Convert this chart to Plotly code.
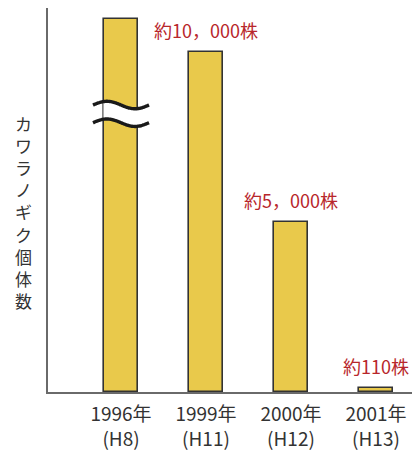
import numpy as np
import plotly.graph_objects as go

# ---- data ----
years = ["1996年", "1999年", "2000年", "2001年"]
eras = ["(H8)", "(H11)", "(H12)", "(H13)"]
# plotted heights (1996 bar is drawn broken, its drawn height)
counts = [10970, 10000, 5000, 110]
value_labels = ["", "約10，000株", "約5，000株", "約110株"]
y_title = "カワラノギク個体数"

# ---- style / layout constants ----
W, H = 417, 450
ML, MR, MT, MB = 48, 5, 8, 58
FONT = "Noto Sans CJK JP, Noto Sans, sans-serif"
BAR_FILL = "#E9C94B"
BAR_LINE = "#333333"
RED = "#B8262B"
AXIS = "#6a6a6a"
Y_MAX = 11294
X_RANGE = [-0.859, 3.424]
BAR_W = 0.4
BREAK_CENTER = 8180   # data units on the broken 1996 bar
BREAK_GAP = 520
BREAK_AMP = 110
BREAK_HALF = 0.33

xpos = list(range(len(years)))
ticktext = [f"{y}<br>{e}" for y, e in zip(years, eras)]

fig = go.Figure()
fig.add_trace(go.Bar(
    x=xpos, y=counts, width=BAR_W,
    marker=dict(color=BAR_FILL, line=dict(color=BAR_LINE, width=1.6)),
    hoverinfo="skip", showlegend=False,
))

# break symbol on the first bar
t = np.linspace(-BREAK_HALF, BREAK_HALF, 60)
wave = BREAK_AMP * np.sin((t + BREAK_HALF) / (2 * BREAK_HALF) * 2 * np.pi + np.pi) * -1
x0 = xpos[0]
top = BREAK_CENTER + BREAK_GAP / 2 + wave
bot = BREAK_CENTER - BREAK_GAP / 2 + wave
inner = np.abs(t) <= BAR_W / 2 + 0.01
fig.add_trace(go.Scatter(
    x=np.concatenate([x0 + t[inner], (x0 + t[inner])[::-1]]),
    y=np.concatenate([top[inner], bot[inner][::-1]]),
    fill="toself", fillcolor="white", mode="none",
    hoverinfo="skip", showlegend=False,
))
for yy in (top, bot):
    fig.add_trace(go.Scatter(
        x=x0 + t, y=yy, mode="lines",
        line=dict(color="#1a1a1a", width=3.4, shape="spline"),
        hoverinfo="skip", showlegend=False,
    ))

# value labels
for xi, v, lab in zip(xpos, counts, value_labels):
    if lab:
        fig.add_annotation(x=xi, y=v, text=lab, showarrow=False,
                           yanchor="middle", yshift=22,
                           font=dict(family=FONT, size=18, color=RED))

# vertical, upright y-axis title (one character per line)
fig.add_annotation(xref="paper", yref="paper", x=0, y=(392 - 212) / 384,
                   xshift=-25, text="<br>".join(y_title), showarrow=False,
                   xanchor="center", yanchor="middle",
                   font=dict(family=FONT, size=17, color="#333333"))

fig.update_layout(
    width=W, height=H,
    margin=dict(l=ML, r=MR, t=MT, b=MB, autoexpand=False),
    paper_bgcolor="white", plot_bgcolor="white",
    font=dict(family=FONT, color="#333333"),
    bargap=0,
)
fig.update_xaxes(
    range=X_RANGE, tickvals=xpos, ticktext=ticktext, automargin=False,
    tickfont=dict(family=FONT, size=19, color="#333333"),
    showgrid=False, zeroline=False, ticks="", ticklabelstandoff=4,
    showline=True, linecolor=AXIS, linewidth=2,
)
fig.update_yaxes(
    range=[0, Y_MAX], showticklabels=False, showgrid=False,
    zeroline=False, ticks="", automargin=False,
    showline=True, linecolor=AXIS, linewidth=2,
)

fig.write_html("out.html")
